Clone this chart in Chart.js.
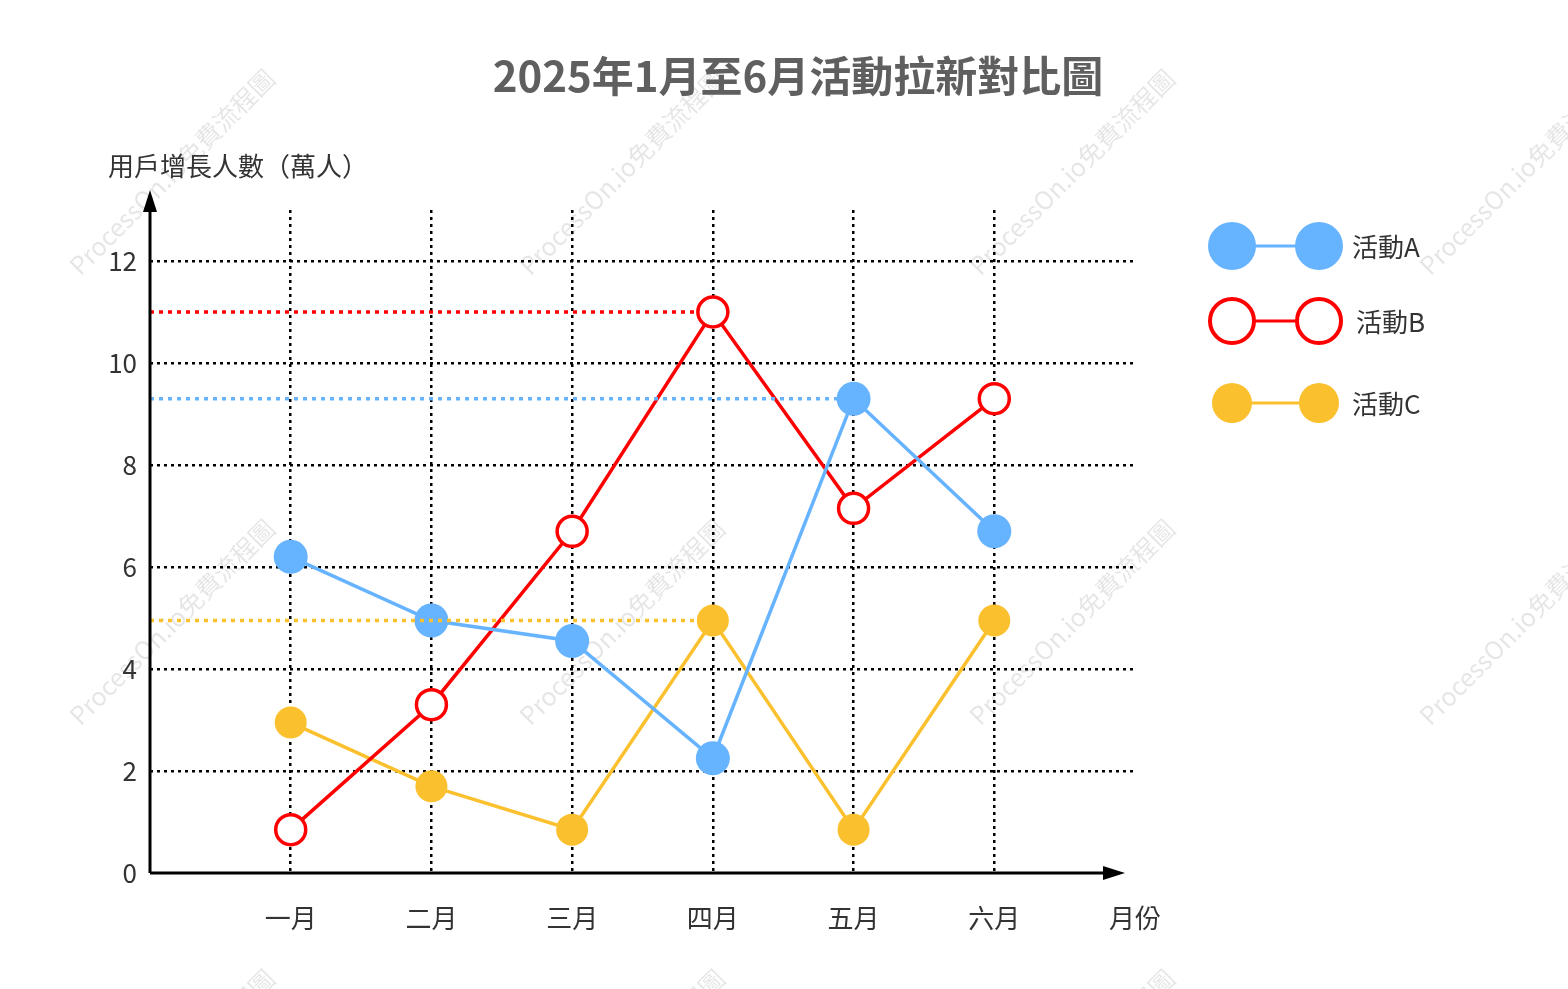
<!DOCTYPE html>
<html>
<head>
<meta charset="utf-8">
<script src="https://cdn.jsdelivr.net/npm/chart.js@4"></script>
<style>
	html, body { margin: 0; padding: 0; background: #fff; }
	#wrap { width: 1568px; height: 989px; }
</style>
</head>
<body>
<div id="wrap"><canvas id="line-chart"></canvas></div>
<script>
; (function() {

	// chart data
	var months = ['一月', '二月', '三月', '四月', '五月', '六月']
	var seriesNames = ['活動A', '活動B', '活動C']
	var activityA = [6.2, 4.95, 4.55, 2.25, 9.3, 6.7]
	var activityB = [0.85, 3.3, 6.7, 11, 7.15, 9.3]
	var activityC = [2.95, 1.7, 0.85, 4.95, 0.85, 4.95]
	var yTicks = [0, 2, 4, 6, 8, 10, 12]
	var chartTitle = '2025年1月至6月活動拉新對比圖'
	var yTitle = '用戶增長人數（萬人）'
	var xTitle = '月份'
	var watermark = 'ProcessOn.io免費流程圖'

	var font = "'Noto Sans CJK TC', 'Noto Sans', sans-serif"
	var colors = ['#66b3ff', '#ff0000', '#fbc02d']

	// pad categories: empty slot at axis origin, axis name at the end
	var labels = [''].concat(months, [xTitle])
	function pad(arr) { return [null].concat(arr, [null]) }

	var extras = {
		id: 'extras',
		beforeDraw: function(chart) {
			var c = chart.ctx
			c.save()
			c.fillStyle = '#fff'
			c.fillRect(0, 0, chart.width, chart.height)
			// watermarks
			c.font = '25px ' + font
			c.fillStyle = 'rgba(0,0,0,0.1)'
			c.textAlign = 'center'
			c.textBaseline = 'middle'
			for (var i = 0; i < 4; i++) {
				for (var j = 0; j < 3; j++) {
					c.save()
					c.translate(172 + 450 * i, 172 + 450 * j)
					c.rotate(-Math.PI / 4)
					c.fillText(watermark, 0, 0)
					c.restore()
				}
			}
			c.restore()
		},
		afterDatasetsDraw: function(chart) {
			var c = chart.ctx
			var area = chart.chartArea
			var xs = chart.scales.x, ys = chart.scales.y
			c.save()
			// dotted line from the axis to each series' maximum
			chart.data.datasets.forEach(function(ds, di) {
				var vals = ds.data.filter(function(v) { return v !== null })
				var max = Math.max.apply(null, vals)
				var idx = ds.data.indexOf(max)
				var px = xs.getPixelForValue(idx), py = ys.getPixelForValue(max)
				c.strokeStyle = ds.borderColor
				c.lineWidth = 3.5
				c.setLineDash([4, 5])
				c.beginPath()
				c.moveTo(area.left, py)
				c.lineTo(px - 16, py)
				c.stroke()
			})
			c.setLineDash([])
			// axes with arrows
			var ox = area.left, oy = ys.getPixelForValue(0)
			c.strokeStyle = '#000'
			c.fillStyle = '#000'
			c.lineWidth = 3
			c.beginPath()
			c.moveTo(ox, oy)
			c.lineTo(ox, area.top - 2)
			c.moveTo(ox, oy)
			c.lineTo(area.right - 20, oy)
			c.stroke()
			c.beginPath()
			c.moveTo(ox, area.top - 20)
			c.lineTo(ox - 7, area.top + 2)
			c.lineTo(ox + 7, area.top + 2)
			c.fill()
			c.beginPath()
			c.moveTo(area.right - 10, oy)
			c.lineTo(area.right - 32, oy - 7)
			c.lineTo(area.right - 32, oy + 7)
			c.fill()
			// titles
			c.fillStyle = '#5f5f5f'
			c.font = 'bold 42px ' + font
			c.textAlign = 'center'
			c.textBaseline = 'middle'
			c.fillText(chartTitle, 798, 76)
			c.fillStyle = '#333'
			c.font = '26px ' + font
			c.textAlign = 'left'
			c.fillText(yTitle, 108, 166)
			// legend
			var rows = [246, 321, 403], rad = [24, 22, 20]
			chart.data.datasets.forEach(function(ds, di) {
				var y = rows[di], r = rad[di]
				c.strokeStyle = ds.borderColor
				c.lineWidth = 3
				c.beginPath()
				c.moveTo(1232, y)
				c.lineTo(1319, y)
				c.stroke()
				;[1232, 1319].forEach(function(cx) {
					c.beginPath()
					c.arc(cx, y, r, 0, Math.PI * 2)
					c.fillStyle = ds.pointBackgroundColor
					c.fill()
					if (di === 1) {
						c.lineWidth = 4
						c.stroke()
					}
				})
				c.fillStyle = '#333'
				c.font = '26px ' + font
				c.textAlign = 'left'
				c.fillText(ds.label, di === 1 ? 1356 : 1352, y + 1)
			})
			c.restore()
		}
	}

	function makeSet(name, vals, color, hollow, r) {
		return {
			label: name,
			data: pad(vals),
			borderColor: color,
			backgroundColor: color,
			pointBackgroundColor: hollow ? '#fff' : color,
			pointBorderColor: color,
			pointBorderWidth: hollow ? 3.5 : 0,
			pointRadius: r,
			borderWidth: 3.5,
			tension: 0,
			spanGaps: false,
		}
	}

	var config = {
		type: 'line',
		data: {
			labels: labels,
			datasets: [
				makeSet(seriesNames[0], activityA, colors[0], false, 17),
				makeSet(seriesNames[1], activityB, colors[1], true, 15),
				makeSet(seriesNames[2], activityC, colors[2], false, 16),
			],
		},
		options: {
			responsive: true,
			maintainAspectRatio: false,
			animation: false,
			layout: { padding: { top: 210, right: 433, bottom: 40, left: 0 } },
			plugins: {
				legend: { display: false },
				title: { display: false },
				tooltip: { enabled: false },
			},
			scales: {
				x: {
					offset: false,
					grid: {
						color: function(ctx) {
							return ctx.index >= 1 && ctx.index <= months.length ? '#000' : 'rgba(0,0,0,0)'
						},
						lineWidth: 2.5,
						tickLength: 0,
						drawTicks: false,
					},
					border: { display: false, dash: [3, 4] },
					ticks: {
						color: '#333',
						font: { family: font, size: 26 },
						padding: 30,
						maxRotation: 0,
						autoSkip: false,
					},
					afterFit: function(s) { s.height = 76 },
				},
				y: {
					min: 0,
					max: 13,
					afterBuildTicks: function(s) {
						s.ticks = yTicks.map(function(v) { return { value: v } })
					},
					grid: {
						color: function(ctx) {
							return ctx.tick && ctx.tick.value > 0 ? '#000' : 'rgba(0,0,0,0)'
						},
						lineWidth: 2.5,
						drawTicks: false,
					},
					border: { display: false, dash: [3, 4] },
					ticks: {
						color: '#333',
						font: { family: font, size: 26 },
						padding: 13,
					},
					afterFit: function(s) { s.width = 150 },
				},
			},
		},
		plugins: [extras],
	}

	const ctx = document.getElementById('line-chart')
	let chart = new Chart(ctx, config)
})()
</script>
</body>
</html>
